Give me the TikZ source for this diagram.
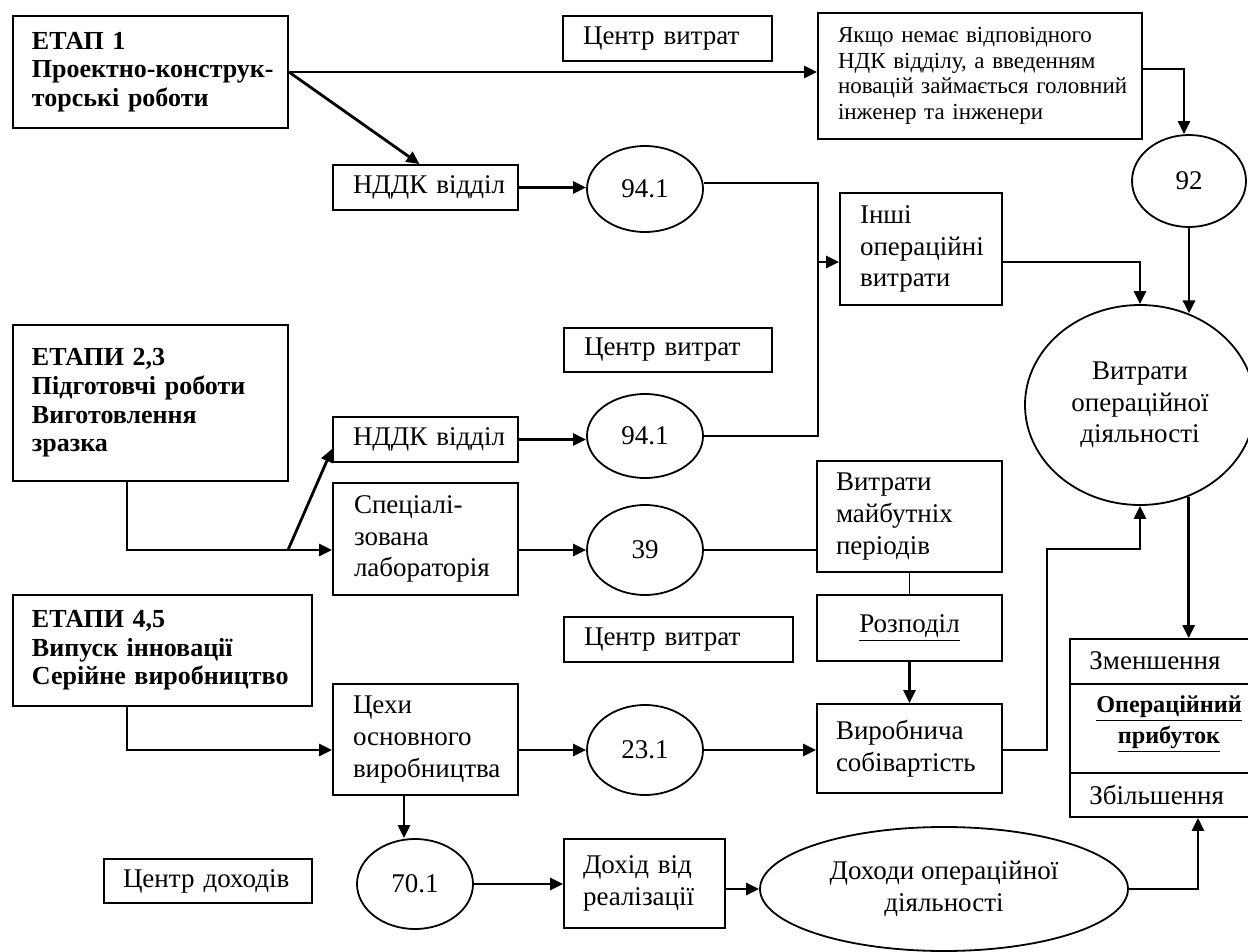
\documentclass[tikz,border=0pt]{standalone}
\usepackage{fontspec}
\setmainfont{Liberation Serif}
\usetikzlibrary{shapes.geometric,arrows.meta}
\newcommand{\txt}{\fontsize{13.5}{15.8}\selectfont}
\newcommand{\bld}{\fontsize{13}{14.3}\selectfont\bfseries}
\newcommand{\sml}{\fontsize{11.5}{12.8}\selectfont}
\begin{document}
\begin{tikzpicture}[x=0.5pt,y=-0.5pt]
        \tikzstyle{box}=[draw,rectangle,line width=0.9pt,inner sep=0pt,font=\txt,align=left]
        \tikzstyle{stage}=[box,font=\bld]
        \tikzstyle{oval}=[draw,ellipse,line width=0.9pt,inner sep=0pt,font=\txt,align=center]
        \tikzstyle{flow}=[draw,line width=1.4pt,-{Triangle[length=6.5pt,width=6pt]}]
        \tikzstyle{link}=[draw,line width=0.8pt]
        \useasboundingbox (0,0) rectangle (1248,952);
        \clip (0,0) rectangle (1248,952);
       \begin{scope}
         \node [stage,minimum width=137.5pt,minimum height=56pt,text width=118.5pt] (et1) at (150.5,72) {ЕТАП 1\\\mbox{Проектно-конструк-}\\торські роботи};
         \node [stage,minimum width=137.5pt,minimum height=78pt,text width=118.5pt] (et23) at (150.5,403) {ЕТАПИ 2,3\\\mbox{Підготовчі роботи}\\Виготовлення\\зразка};
         \node [stage,minimum width=149.5pt,minimum height=55.5pt,text width=130.5pt] (et45) at (162.5,650.5) {ЕТАПИ 4,5\\\mbox{Випуск інновації}\\\mbox{Серійне виробництво}};
         \node [box,minimum width=104.5pt,minimum height=22.5pt,text width=84.5pt] (ct1) at (667.5,38.5) {\mbox{Центр витрат}};
         \node [box,minimum width=104pt,minimum height=22pt,text width=84pt] (ct2) at (668,350) {\mbox{Центр витрат}};
         \node [box,minimum width=114.5pt,minimum height=22.5pt,text width=94.5pt] (ct3) at (678.5,639.5) {\mbox{Центр витрат}};
         \node [box,minimum width=104pt,minimum height=22pt,text width=85pt] (cd) at (208,881) {\mbox{Центр доходів}};
         \node [box,font=\sml,minimum width=162pt,minimum height=63pt,text width=142pt] (yak) at (980,76) {\mbox{Якщо немає відповідного}\\\mbox{НДК відділу, а введенням}\\\mbox{новацій займається головний}\\\mbox{інженер та інженери}};
         \node [box,minimum width=92.5pt,minimum height=22.5pt,text width=72.5pt] (nd1) at (425.5,187.5) {\mbox{НДДК відділ}};
         \node [box,minimum width=92.5pt,minimum height=22.5pt,text width=72.5pt] (nd2) at (425.5,439.5) {\mbox{НДДК відділ}};
         \node [box,minimum width=92.5pt,minimum height=56pt,text width=71.5pt] (sp) at (425.5,539) {Спеціалі-\\зована\\лабораторія};
         \node [box,minimum width=92.5pt,minimum height=55.5pt,text width=72.5pt] (ce) at (425.5,739.5) {Цехи\\основного\\виробництва};
         \node [box,minimum width=81pt,minimum height=56pt,text width=61pt] (in) at (921,249) {Інші\\операційні\\витрати};
         \node [box,minimum width=92.5pt,minimum height=55.5pt,text width=73.5pt] (vm) at (909.5,516.5) {Витрати\\майбутніх\\періодів};
         \node [box,minimum width=92.5pt,minimum height=33pt,align=center] (rz) at (909.5,628) {\underline{Розподіл}};
         \node [box,minimum width=92.5pt,minimum height=44.5pt,text width=73.5pt] (vs) at (909.5,748.5) {Виробнича\\собівартість};
         \node [box,minimum width=80.5pt,minimum height=44.5pt,text width=61.5pt] (dr) at (644.5,883.5) {Дохід від\\реалізації};
         \node [box,minimum width=91pt,minimum height=89pt] (op) at (1161,728) {};
         \draw [line width=0.9pt] (1070,684) -- (1252,684);
         \draw [line width=0.9pt] (1070,773) -- (1252,773);
         \node [font=\txt,anchor=west,inner sep=0pt] (dec) at (1089,661) {Зменшення};
         \node [font=\fontsize{12.1}{15.5}\selectfont\bfseries,align=center,inner sep=0pt] (opt) at (1169,724) {\underline{Операційний}\\\underline{прибуток}};
         \node [font=\txt,anchor=west,inner sep=0pt] (inc) at (1089,795) {Збільшення};
         \node [oval,minimum width=58pt,minimum height=43pt] (e1) at (645,189) {94.1};
         \node [oval,minimum width=58pt,minimum height=42pt] (e2) at (645,436) {94.1};
         \node [oval,minimum width=58pt,minimum height=45pt] (e3) at (645,550) {39};
         \node [oval,minimum width=58pt,minimum height=45pt] (e4) at (645,750) {23.1};
         \node [oval,minimum width=58pt,minimum height=45pt] (e5) at (415,884) {70.1};
         \node [oval,minimum width=57pt,minimum height=46pt] (e6) at (1189,181) {92};
         \node [oval,minimum width=115pt,minimum height=100pt] (e7) at (1140,405) {Витрати\\операційної\\діяльності};
         \node [oval,minimum width=184pt,minimum height=62pt] (e8) at (944,889) {Доходи операційної\\діяльності};
         \coordinate (j1) at (818,262);
         \coordinate (j2) at (288,550);
         \coordinate (j3) at (1047,549);
         \path[flow] (et1.east) -- (et1.east -| yak.west);
         \path[flow] (et1.east) -- ([xshift=-3pt]nd1.north);
         \path[flow] (nd1.east) -- (nd1.east -| e1.west);
         \path[link] ([yshift=3pt]e1.east) -| (j1) |- (e2.east);
         \path[flow] (j1) -- (j1 -| in.west);
         \path[flow] ([yshift=-6.5pt]in.east) -| (e7.north);
         \path[flow] ([yshift=3.5pt]yak.east) -| ([xshift=-2.5pt]e6.north);
         \path[flow] (e6.south) -- (e6.south |- e7.62);
         \path[flow] (e7.-62) -- (e7.-62 |- op.north);
         \path[flow] ([xshift=-11.75pt]et23.south) |- (j2) -- (j2 -| sp.west);
         \path[flow] (j2) -- ([yshift=7pt]nd2.south west);
         \path[flow] (nd2.east) -- (nd2.east -| e2.west);
         \path[flow] (e3.west -| sp.east) -- (e3.west);
         \path[link] (e3.east) -- (e3.east -| vm.west);
         \path[link] (vm.south) -- (rz.north);
         \path[flow] (rz.south) -- (vs.north);
         \path[flow] ([xshift=-17.75pt]et45.south) |- (e4.west -| ce.west);
         \path[flow] (e4.west -| ce.east) -- (e4.west);
         \path[flow] (e4.east) -- (e4.east -| vs.west);
         \path[flow] (e4.east -| vs.east) -| (j3) -| (e7.south);
         \path[flow] ([xshift=-10.75pt]ce.south) -- ([xshift=-10.75pt]ce.south |- e5.north);
         \path[flow] (e5.east) -- (e5.east -| dr.west);
         \path[flow] (e8.west -| dr.east) -- (e8.west);
         \path[flow] (e8.east) -| ([xshift=18.5pt]op.south);
        \end{scope}
\end{tikzpicture}
\end{document}
